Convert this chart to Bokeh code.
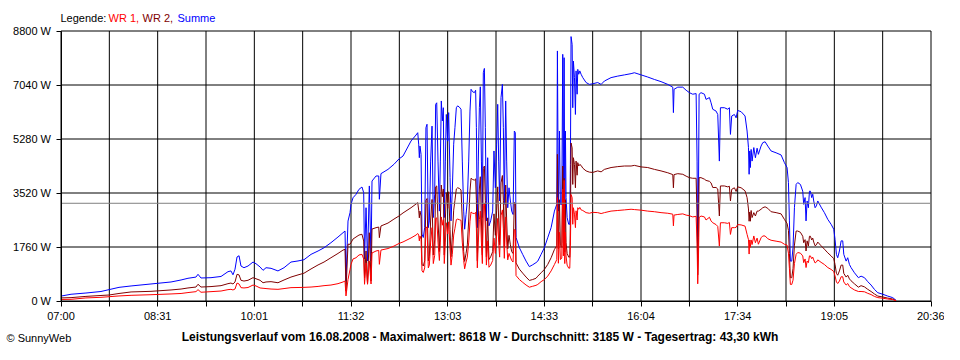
from bokeh.plotting import figure
from bokeh.models import Range1d, FixedTicker, PrintfTickFormatter, Label
from bokeh.embed import file_html
from bokeh.resources import INLINE

# time of day in minutes since midnight
time_min = [
    420.0, 429.4, 443.4, 457.5, 465.0, 474.4, 485.7, 504.4, 523.2, 532.6, 539.1, 546.6, 548.5, 551.3,
    560.7, 570.1, 576.6, 579.4, 581.3, 583.2, 585.1, 587.0, 588.8, 591.6, 595.4, 600.1, 602.9, 606.7,
    609.5, 612.3, 617.0, 623.5, 629.2, 635.7, 642.3, 647.9, 654.5, 661.1, 666.7, 673.2, 679.8, 684.5,
    686.4, 687.3, 689.2, 691.1, 692.0, 693.9, 696.7, 699.5, 702.3, 703.9, 704.7, 706.1, 707.5, 709.2,
    710.8, 711.7, 715.5, 718.0, 718.6, 720.1, 726.7, 732.3, 737.0, 740.8, 748.3, 753.0, 754.6,
    755.5, 756.1, 756.7, 757.7, 758.6, 759.8, 761.1, 762.3, 763.3, 764.5, 765.5, 766.7, 768.0, 769.2,
    770.5, 771.4, 772.4, 773.6, 774.9, 775.8, 776.7, 777.7, 778.6, 779.5, 780.5, 781.4, 782.7, 783.6,
    784.9, 785.8, 787.0, 788.3, 789.5, 790.8, 792.0, 793.6, 795.2, 796.4, 797.7, 798.6, 799.9, 801.1,
    802.4, 803.6, 804.6, 806.1, 807.7, 808.9, 809.6, 810.5, 811.4, 812.4, 813.3, 814.3, 815.2, 816.1,
    817.1, 818.0, 819.0, 820.2, 821.4, 823.0, 824.9, 826.1, 827.4, 828.6, 829.6, 830.5, 831.4, 832.7,
    834.0, 834.9, 835.8, 837.1, 838.0, 839.0, 840.2, 841.5, 842.7, 844.0, 845.2, 846.1, 846.8, 849.9,
    853.0, 856.2, 859.3, 862.4, 865.5,
    867.2, 870.3, 873.4, 876.5, 879.7, 882.8, 885.0, 885.6, 886.5, 887.5, 888.4, 889.7, 890.6, 891.2,
    891.9, 892.5, 893.1, 893.7, 894.7, 896.2, 897.2, 897.8, 898.4, 899.4, 900.0, 900.6, 901.6, 902.5,
    903.1, 904.1, 904.7, 905.6, 906.6, 907.8, 909.4, 912.5, 915.6, 918.7, 923.4, 926.6, 929.7, 935.9,
    942.2, 948.5, 954.7,
    957.8, 964.1, 970.3, 976.6, 982.8, 989.1, 993.8, 994.4, 995.0, 998.5, 1003.2, 1006.3, 1009.4,
    1012.5, 1015.7, 1016.6, 1017.2, 1017.9, 1018.5, 1020.3, 1023.5, 1025.0, 1028.2, 1029.7, 1031.3,
    1034.4, 1036.0, 1037.5, 1038.5, 1042.2, 1045.4, 1046.9, 1047.9, 1049.1, 1051.6, 1053.2, 1054.7,
    1057.9, 1061.6, 1063.5, 1064.8, 1065.4, 1066.0, 1066.6, 1067.3, 1068.2, 1069.8, 1071.3, 1072.9,
    1074.1, 1076.6, 1078.2, 1080.4, 1082.9, 1086.0, 1090.7, 1095.4,
    1098.5, 1101.0, 1102.3, 1103.2, 1104.1, 1105.4, 1106.6, 1107.9, 1109.5, 1111.0, 1113.5, 1115.7,
    1116.6, 1117.9, 1118.8, 1119.8, 1121.0, 1122.0, 1122.9, 1124.1, 1125.1, 1126.0, 1127.3, 1128.5,
    1129.8, 1132.9, 1136.0, 1139.2, 1142.3, 1144.8, 1146.0, 1147.3, 1148.5, 1150.1, 1151.7, 1153.2,
    1154.2, 1156.4, 1157.9, 1159.5, 1161.0, 1164.2, 1167.9, 1170.4, 1173.6, 1176.7, 1179.8, 1182.9,
    1186.1, 1190.8, 1195.4, 1200.1, 1203.3,
]

summe_w = [
    160, 220, 260, 310, 370, 445, 490, 555, 620, 685, 740, 780, 870, 750,
    760, 800, 955, 980, 855, 1035, 1435, 1475, 1140, 1085, 1140, 1270, 1215, 1110,
    1000, 1085, 1065, 980, 1085, 1270, 1305, 1345, 1520, 1630, 1735, 1900, 2085, 2225,
    2280, 650, 2605, 2880, 3150, 3365, 3475, 3640, 3715, 3530, 1370, 3040, 1305, 3750,
    1305, 3910, 4075, 4075, 3315, 4150, 4290, 4455, 4630, 4725, 5215, 5410, 5485,
    5110, 4670, 5050, 4780, 2180, 2070, 2390, 5650, 5760, 2390, 2610, 4560, 5700, 2720,
    3480, 6410, 6460, 4560, 2930, 4560, 6520, 5870, 6300, 2720, 4560, 6080, 5210, 6140,
    4020, 2610, 3590, 5110, 5650, 6300, 6360, 6320, 6250, 4560, 2930, 2340, 2820, 3260,
    4560, 6190, 6900, 6820, 6790, 6870, 5650, 2390, 4560, 6300, 6980, 4560, 2720, 7440,
    7580, 5650, 2610, 4670, 2450, 2610, 2930, 4890, 3690, 5110, 6410, 4560, 3260, 6630,
    7060, 5650, 3150, 6520, 4560, 3040, 3690, 3260, 2930, 2820, 5540, 5490, 2070, 1740,
    1520, 1300, 1120, 1180, 1250,
    1300, 1520, 1740, 2060, 2390, 2930, 3150, 8150, 2930, 5540, 3150, 3150, 8040, 3370,
    7930, 2820, 5540, 3370, 2720, 2500, 2500, 4450, 8618, 8360, 6300, 7820, 7280, 6080,
    7500, 6740, 7550, 7390, 7500, 7390, 7280, 7120, 7060, 7080, 7120, 7060, 7170, 7280,
    7330, 7370, 7410,
    7440, 7370, 7300, 7220, 7150, 7060, 6970, 6140, 6900, 6970, 6970, 6870, 6790,
    6740, 6760, 4560, 1410, 3480, 6740, 6790, 6740, 6570, 6630, 6460, 6250,
    6190, 6080, 4560, 6300, 6300, 6250, 6300, 5430, 6030, 6080, 5970, 6210,
    6170, 6030, 5540, 5000, 4130, 4890, 4350, 4940, 4560, 5000, 4670, 4980,
    4780, 5050, 5160, 5190, 5050, 4890, 4830, 4760,
    4510, 4350, 3860, 2610, 1300, 1300, 1740, 3040, 3800, 3860, 3800, 3580,
    3150, 3370, 2610, 3260, 3040, 3580, 3580, 3370, 3480, 3260, 3040, 3100,
    3260, 3060, 2880, 2660, 2500, 2340, 2010, 1520, 1410, 1630, 1960, 1960,
    1520, 1300, 1410, 1190, 1090, 920, 760, 810, 760, 630, 520, 380,
    270, 220, 160, 110, 20,
]

wr2_w = [
    100, 110, 150, 180, 195, 245, 295, 315, 360, 390, 425, 455, 545, 455,
    470, 500, 565, 585, 555, 620, 870, 850, 675, 650, 675, 760, 725, 675,
    595, 620, 630, 595, 685, 780, 850, 905, 1045, 1175, 1270, 1410, 1550, 1660,
    1685, 325, 1850, 1850, 1900, 2020, 2085, 2150, 2175, 1955, 750, 1630, 555, 2225,
    650, 2345, 2390, 2410, 2065, 2445, 2540, 2670, 2770, 2870, 3040, 3160, 3205,
    2960, 2710, 2930, 2770, 1200, 1140, 1310, 3280, 3340, 1310, 1440, 2640, 3310, 1500,
    1990, 3720, 3750, 2640, 1610, 2640, 3780, 3400, 3650, 1500, 2640, 3530, 3020, 3560,
    2330, 1440, 2080, 2960, 3280, 3650, 3690, 3670, 3620, 2640, 1610, 1290, 1550, 1830,
    2640, 3590, 4000, 3960, 3940, 3980, 3280, 1310, 2640, 3650, 4050, 2640, 1500, 4320,
    4400, 3280, 1440, 2710, 1350, 1440, 1610, 2840, 2140, 2960, 3720, 2640, 1830, 3850,
    4090, 3280, 1760, 3780, 2640, 1700, 2140, 1830, 1610, 1550, 3210, 3180, 1240, 1040,
    910, 780, 670, 700, 740,
    810, 920, 1030, 1190, 1410, 1680, 1800, 4780, 1700, 3300, 1800, 1750, 4400, 1900,
    4000, 1600, 3300, 1900, 1550, 1430, 1430, 2650, 5150, 4990, 3800, 4670, 4450, 3690,
    4560, 4100, 4510, 4400, 4450, 4420, 4330, 4240, 4200, 4190, 4240, 4210, 4290, 4350,
    4380, 4400, 4400,
    4420, 4370, 4350, 4290, 4240, 4180, 4120, 3690, 4120, 4150, 4130, 4070, 4020,
    4000, 4000, 2700, 850, 2080, 4020, 4020, 3970, 3930, 3900, 3850, 3700,
    3700, 3650, 2770, 3750, 3750, 3720, 3740, 3260, 3640, 3690, 3570, 3720,
    3690, 3590, 3370, 3000, 2600, 2900, 2600, 2950, 2720, 2880, 2770, 2930,
    2930, 2990, 3040, 3070, 3020, 2910, 2880, 2840,
    2660, 2530, 2300, 1550, 760, 760, 1060, 1820, 2280, 2280, 2240, 2110,
    1900, 2000, 1630, 1960, 1790, 2110, 2110, 1990, 2050, 1920, 1800, 1830,
    1920, 1800, 1690, 1570, 1470, 1380, 1190, 900, 840, 980, 1170, 1170,
    900, 780, 840, 720, 660, 560, 450, 500, 460, 380, 310, 230,
    160, 130, 95, 65, 10,
]

wr1_w = [
    50, 55, 100, 120, 140, 165, 185, 205, 230, 245, 275, 305, 370, 285,
    305, 325, 370, 380, 360, 390, 585, 555, 435, 425, 440, 520, 490, 425,
    415, 405, 390, 380, 405, 435, 440, 445, 455, 475, 500, 520, 565, 620,
    650, 165, 700, 1030, 1195, 1370, 1410, 1500, 1520, 1370, 545, 1240, 545, 1305,
    555, 1565, 1630, 1650, 1195, 1660, 1710, 1790, 1875, 1925, 2055, 2150, 2200,
    2150, 1960, 2120, 2010, 980, 930, 1080, 2370, 2420, 1080, 1170, 1920, 2390, 1220,
    1490, 2690, 2710, 1920, 1320, 1920, 2740, 2470, 2650, 1220, 1920, 2550, 2190, 2580,
    1690, 1170, 1510, 2150, 2370, 2650, 2670, 2650, 2630, 1920, 1320, 1050, 1270, 1430,
    1920, 2600, 2900, 2860, 2850, 2890, 2370, 1080, 1920, 2650, 2930, 1920, 1220, 3120,
    3180, 2370, 1170, 1960, 1100, 1170, 1320, 2050, 1550, 2150, 2690, 1920, 1430, 2780,
    2970, 2370, 1390, 2740, 1920, 1340, 1550, 1430, 1320, 1270, 2330, 2310, 830, 700,
    610, 520, 450, 480, 510,
    540, 630, 700, 810, 980, 1190, 1350, 3370, 1230, 2240, 1350, 1400, 3640, 1470,
    3930, 1220, 2240, 1470, 1170, 1070, 1070, 1800, 3470, 3370, 2500, 3040, 2830, 2390,
    2940, 2640, 3040, 2990, 3050, 2970, 2950, 2880, 2860, 2890, 2880, 2850, 2880, 2930,
    2950, 2970, 2990,
    2980, 2960, 2930, 2910, 2880, 2860, 2830, 2450, 2800, 2820, 2840, 2800, 2780,
    2740, 2760, 1860, 560, 1400, 2720, 2770, 2740, 2640, 2730, 2610, 2550,
    2490, 2430, 1790, 2550, 2550, 2530, 2560, 2170, 2390, 2390, 2400, 2490,
    2480, 2440, 2170, 2000, 1530, 1990, 1750, 1990, 1840, 2120, 1900, 2050,
    1850, 2060, 2120, 2120, 2030, 1980, 1950, 1920,
    1850, 1820, 1560, 1060, 540, 540, 680, 1220, 1520, 1580, 1560, 1470,
    1250, 1370, 1090, 1300, 1250, 1470, 1470, 1380, 1430, 1340, 1240, 1270,
    1340, 1260, 1190, 1090, 1030, 960, 820, 620, 570, 650, 790, 790,
    620, 520, 570, 470, 430, 360, 310, 310, 300, 250, 210, 150,
    110, 90, 65, 45, 10,
]

x_tick_labels = ["07:00", "08:31", "10:01", "11:32", "13:03", "14:33", "16:04", "17:34", "19:05", "20:36"]
y_ticks = [0, 1760, 3520, 5280, 7040, 8800]
average_w = 3185
caption = ("Leistungsverlauf vom 16.08.2008 - Maximalwert: 8618 W - Durchschnitt: 3185 W"
           " - Tagesertrag: 43,30 kWh")
legend_parts = [("Legende:", "#000000"), ("WR 1,", "#ff0000"), ("WR 2,", "#800000"), ("Summe", "#0000ff")]
copyright_text = "\u00a9 SunnyWeb"

FONT = "Liberation Sans"

# ---- layout (pixels) ----
W, H = 944, 344
PX_L, PX_R, PX_T, PX_B = 60.5, 930.5, 30.5, 300.5   # plot box on the canvas

x_start = 7 * 3600
x_end = 20 * 3600 + 36 * 60
n_div = 2 * (len(x_tick_labels) - 1)
step = (x_end - x_start) // n_div
x_ticks = [x_start + i * step for i in range(n_div + 1)]
overrides = {tk: (x_tick_labels[i // 2] if i % 2 == 0 else "") for i, tk in enumerate(x_ticks)}

y_lo, y_hi = y_ticks[0], y_ticks[-1]
sx = (x_end - x_start) / (PX_R - PX_L)
sy = (y_hi - y_lo) / (PX_B - PX_T)
xr = Range1d(x_start - PX_L * sx, x_end + (W - PX_R) * sx)
yr = Range1d(y_lo - (H - PX_B) * sy, y_hi + PX_T * sy)

xs = [m * 60 for m in time_min]

p = figure(width=W, height=H, output_backend="svg", toolbar_location=None,
           x_range=xr, y_range=yr, min_border=0)
p.background_fill_color = "white"
p.border_fill_color = "white"
p.outline_line_color = None
p.xgrid.visible = False
p.ygrid.visible = False

p.xaxis.ticker = FixedTicker(ticks=x_ticks)
p.xaxis.major_label_overrides = overrides
p.xaxis.fixed_location = y_lo
p.xaxis.bounds = (x_start, x_end)
p.yaxis.ticker = FixedTicker(ticks=y_ticks)
p.yaxis.formatter = PrintfTickFormatter(format="%d W")
p.yaxis.fixed_location = x_start
p.yaxis.bounds = (y_lo, y_hi)

for ax in (p.xaxis, p.yaxis):
    ax.axis_line_color = "black"
    ax.major_tick_line_color = "black"
    ax.minor_tick_line_color = None
    ax.major_tick_in = 0
    ax.major_tick_out = 5
    ax.major_label_text_font = FONT
    ax.major_label_text_font_size = "11px"
    ax.major_label_text_color = "black"
p.xaxis.major_label_standoff = 4
p.yaxis.major_label_standoff = 5

# grid lines and plot box, limited to the plot area
p.segment(x0=x_ticks, y0=[y_lo] * len(x_ticks), x1=x_ticks, y1=[y_hi] * len(x_ticks),
          line_color="black", line_width=1)
p.segment(x0=[x_start] * len(y_ticks), y0=y_ticks, x1=[x_end] * len(y_ticks), y1=y_ticks,
          line_color="black", line_width=1)

p.line(xs, summe_w, line_color="#0000ff", line_width=1)
p.line(xs, wr2_w, line_color="#800000", line_width=1)
p.line(xs, wr1_w, line_color="#ff0000", line_width=1)

# average line
p.segment(x0=[x_start], y0=[average_w], x1=[x_end], y1=[average_w], line_color="#808080", line_width=1)

legend_x = [60, 108, 142, 177]
for (txt, col), lx in zip(legend_parts, legend_x):
    p.add_layout(Label(x=lx, y=H - 17, x_units="screen", y_units="screen", text=txt,
                       text_color=col, text_font=FONT, text_font_size="11px",
                       text_baseline="middle", text_align="left"))

p.add_layout(Label(x=479.5, y=H - 336, x_units="screen", y_units="screen", text=caption,
                   text_color="black", text_font=FONT, text_font_size="12px",
                   text_font_style="bold", text_baseline="middle", text_align="center"))
p.add_layout(Label(x=6, y=H - 337, x_units="screen", y_units="screen", text=copyright_text,
                   text_color="black", text_font=FONT, text_font_size="11px",
                   text_baseline="middle", text_align="left"))

open("out.html", "w").write(file_html(p, INLINE))
